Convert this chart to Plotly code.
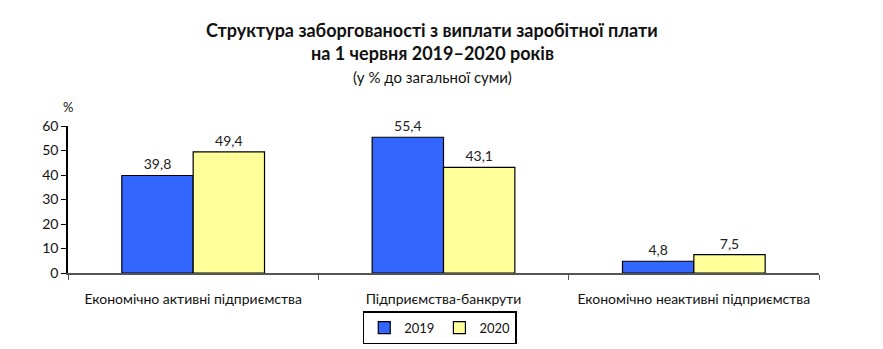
import plotly.graph_objects as go

categories = ["Економічно активні підприємства", "Підприємства-банкрути", "Економічно неактивні підприємства"]
values_2019 = [39.8, 55.4, 4.8]
values_2020 = [49.4, 43.1, 7.5]
labels_2019 = ["39,8", "55,4", "4,8"]
labels_2020 = ["49,4", "43,1", "7,5"]
y_ticks = [0, 10, 20, 30, 40, 50, 60]

FONT = "Lato, Open Sans, sans-serif"

fig = go.Figure()
fig.add_trace(go.Bar(
    x=categories, y=values_2019, name="2019",
    marker=dict(color="#3366FF", line=dict(color="#000000", width=1.2)),
    text=labels_2019, textposition="outside", cliponaxis=False,
    textfont=dict(size=14, color="#222222", family=FONT),
))
fig.add_trace(go.Bar(
    x=categories, y=values_2020, name="2020",
    marker=dict(color="#FFFF99", line=dict(color="#000000", width=1.2)),
    text=labels_2020, textposition="outside", cliponaxis=False,
    textfont=dict(size=14, color="#222222", family=FONT),
))

fig.update_layout(
    width=883, height=349,
    margin=dict(l=68, r=64, t=126, b=76, autoexpand=False),
    paper_bgcolor="white", plot_bgcolor="white",
    barmode="group", bargap=0.43, bargroupgap=0,
    font=dict(family=FONT, size=14, color="#111111"),
    showlegend=True,
    legend=dict(
        orientation="h", x=0.495, xanchor="center", y=-0.26, yanchor="top",
        bordercolor="#000000", borderwidth=1.5,
        font=dict(size=13, family=FONT),
        itemwidth=30, tracegroupgap=0, indentation=0,
    ),
)

fig.update_xaxes(
    range=[-0.5, 2.5], showline=True, linecolor="#555555", linewidth=1.5,
    ticks="outside", tickson="boundaries", ticklen=5, tickcolor="#555555",
    tickfont=dict(size=14, family=FONT, color="#111111"),
    ticklabelstandoff=12,
    showgrid=False, zeroline=False, fixedrange=True,
)
fig.update_yaxes(
    range=[0, 60], tickvals=y_ticks, showline=True, linecolor="#000000", linewidth=1.5,
    ticks="outside", ticklen=5, tickcolor="#000000",
    tickfont=dict(size=14, family=FONT, color="#111111"),
    showgrid=False, zeroline=False, fixedrange=True,
)

fig.add_annotation(
    text="<b>Структура заборгованості з виплати заробітної плати</b>",
    xref="paper", yref="paper", x=0.485, y=1, yshift=96, xanchor="center", yanchor="middle",
    showarrow=False, font=dict(size=18, family=FONT, color="#111111"),
)
fig.add_annotation(
    text="<b>на 1 червня 2019–2020 років</b>",
    xref="paper", yref="paper", x=0.485, y=1, yshift=73, xanchor="center", yanchor="middle",
    showarrow=False, font=dict(size=18, family=FONT, color="#111111"),
)
fig.add_annotation(
    text="(у % до загальної суми)",
    xref="paper", yref="paper", x=0.485, y=1, yshift=49, xanchor="center", yanchor="middle",
    showarrow=False, font=dict(size=15, family=FONT, color="#111111"),
)
fig.add_annotation(
    text="%", xref="paper", yref="paper", x=0, y=1, yshift=19, xanchor="center", yanchor="middle",
    showarrow=False, font=dict(size=13, family=FONT, color="#111111"),
)

fig.write_html("out.html")
